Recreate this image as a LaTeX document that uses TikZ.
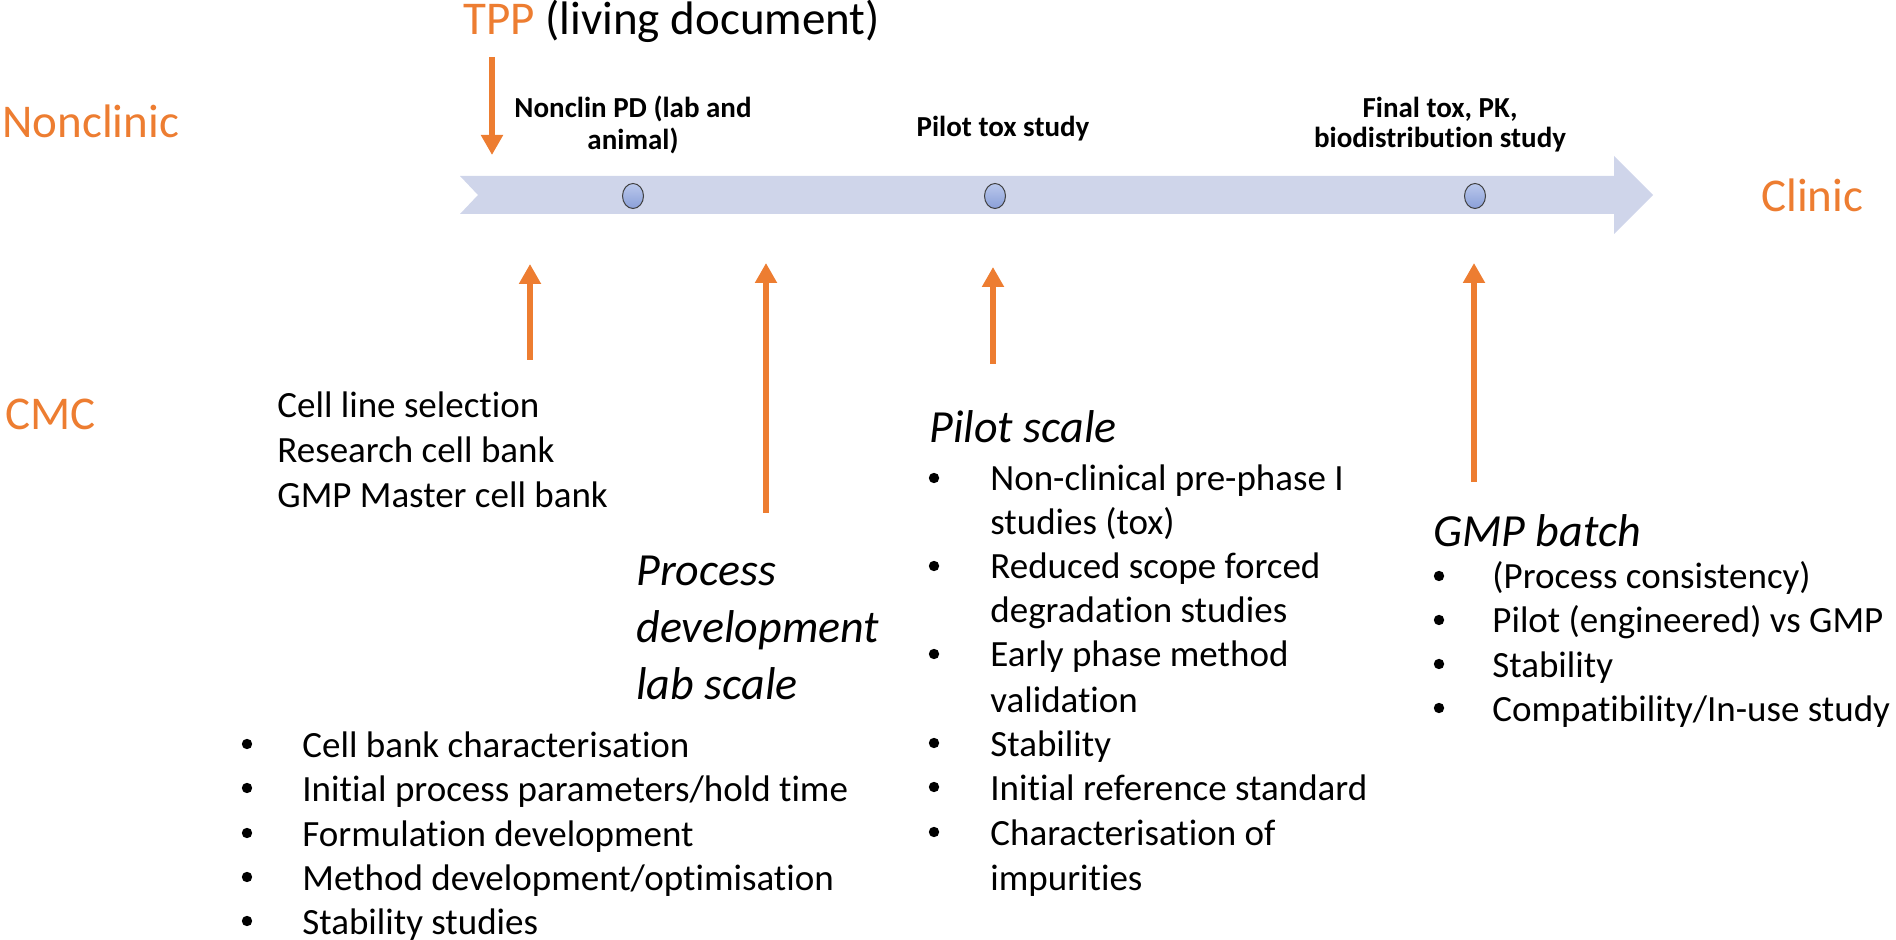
\documentclass[tikz,border=0pt]{standalone}
\usepackage{fontspec}
\setmainfont{Carlito}[Ligatures=NoCommon]
\usetikzlibrary{arrows.meta,shapes.geometric}
\definecolor{orng}{HTML}{ED7D31}
\definecolor{bandc}{HTML}{CFD5EA}
\definecolor{dotedge}{HTML}{404040}
\definecolor{dottop}{HTML}{BAC8EC}
\definecolor{dotbot}{HTML}{8A9FD8}
\tikzset{
  lbl/.style={inner sep=0, text=orng, font=\fontsize{23.5}{28}\selectfont},
  milestone/.style={inner sep=0, font=\bfseries\fontsize{14.5}{16}\selectfont},
  body/.style={inner sep=0, font=\fontsize{18.5}{22}\selectfont},
  head/.style={inner sep=0, font=\itshape\fontsize{23}{28}\selectfont},
  bulletdot/.style={circle, fill=black, inner sep=0, minimum size=5.2pt},
  oarrow/.style={draw=orng, line width=2.75pt, -{Triangle[width=10.5pt,length=10pt]}},
  dot/.style={ellipse, draw=dotedge, line width=0.5pt, top color=dottop, bottom color=dotbot, minimum width=10.5pt, minimum height=12.5pt, inner sep=0},
}
\newcommand\bul[5]{%
  \node[bulletdot] (#1b) at (#2,#4-13) {};
  \node[body, anchor=base west] (#1) at (#3,#4) {#5};}
\newcommand\txtline[4]{\node[body, anchor=base west] (#1) at (#2,#3) {#4};}
\begin{document}
\begin{tikzpicture}[x=0.5pt,y=-0.5pt]
\useasboundingbox (0,0) rectangle (1896,940);
% timeline band
\fill[bandc] (460,176) -- (1614,176) -- (1614,156) -- (1653,195) -- (1614,234) -- (1614,214) -- (460,214) -- (478,195) -- cycle;
\node[dot] (d1) at (633,196) {};
\node[dot] (d2) at (995,196) {};
\node[dot] (d3) at (1475,196) {};
% side labels
\node[lbl, anchor=base west] (nonclinic) at (2,138) {Nonclinic};
\node[lbl, anchor=base west] (cmc) at (5,430) {CMC};
\node[lbl, anchor=base west] (clinic) at (1761,212) {Clinic};
\node[inner sep=0, anchor=base west, font=\fontsize{23.5}{28}\selectfont] (tpp) at (463,35) {\textcolor{orng}{TPP} (living document)};
% milestones
\node[milestone, anchor=base] (m1a) at (633,118) {Nonclin PD (lab and};
\node[milestone, anchor=base] (m1b) at (633,150) {animal)};
\node[milestone, anchor=base] (m2) at (1003,137) {Pilot tox study};
\node[milestone, anchor=base] (m3a) at (1440,118) {Final tox, PK,};
\node[milestone, anchor=base] (m3b) at (1440,148) {biodistribution study};
% arrows
\coordinate (t0) at (492,57); \coordinate (t1) at (492,155);
\draw[oarrow] (t0) -- (t1);
\coordinate (a0) at (530,360); \coordinate (a1) at (530,264);
\draw[oarrow] (a0) -- (a1);
\coordinate (b0) at (766,513); \coordinate (b1) at (766,263);
\draw[oarrow] (b0) -- (b1);
\coordinate (c0) at (993,364); \coordinate (c1) at (993,267);
\draw[oarrow] (c0) -- (c1);
\coordinate (e0) at (1474,482); \coordinate (e1) at (1474,263);
\draw[oarrow] (e0) -- (e1);
% cell line block
\txtline{cl1}{277}{418}{Cell line selection}
\txtline{cl2}{277}{463}{Research cell bank}
\txtline{cl3}{277}{508}{GMP Master cell bank}
% process development
\node[head, anchor=base west] (pd1) at (636,586) {Process};
\node[head, anchor=base west] (pd2) at (636,643) {development};
\node[head, anchor=base west] (pd3) at (636,700) {lab scale};
\bul{l1}{247}{302}{757}{Cell bank characterisation}
\bul{l2}{247}{302}{801}{Initial process parameters/hold time}
\bul{l3}{247}{302}{846}{Formulation development}
\bul{l4}{247}{302}{890}{Method development/optimisation}
\bul{l5}{247}{302}{934}{Stability studies}
% pilot scale
\node[head, anchor=base west] (ps) at (929,443) {Pilot scale};
\bul{p1}{934}{990}{491}{Non-clinical pre-phase I}
\txtline{p1c}{990}{535}{studies (tox)}
\bul{p2}{934}{990}{579}{Reduced scope forced}
\txtline{p2c}{990}{623}{degradation studies}
\bul{p3}{934}{990}{667}{Early phase method}
\txtline{p3c}{990}{712}{validation}
\bul{p4}{934}{990}{756}{Stability}
\bul{p5}{934}{990}{800}{Initial reference standard}
\bul{p6}{934}{990}{845}{Characterisation of}
\txtline{p6c}{990}{890}{impurities}
% GMP batch
\node[head, anchor=base west] (gb) at (1433,547) {GMP batch};
\bul{g1}{1439}{1492}{589}{(Process consistency)}
\bul{g2}{1439}{1492}{633}{Pilot (engineered) vs GMP}
\bul{g3}{1439}{1492}{677}{Stability}
\bul{g4}{1439}{1492}{721}{Compatibility/In-use study}
\end{tikzpicture}
\end{document}
